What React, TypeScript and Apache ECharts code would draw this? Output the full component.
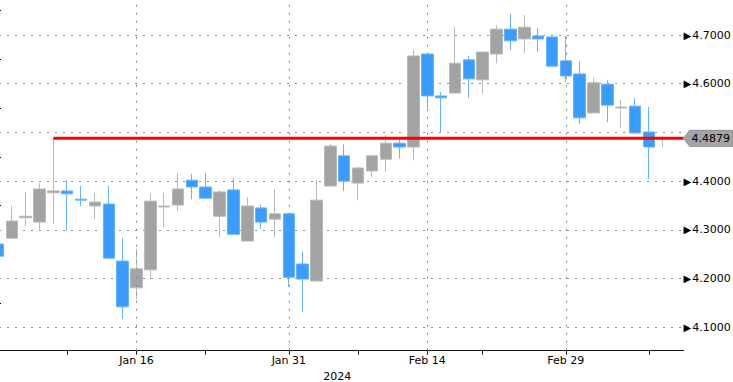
import React, { useEffect, useRef } from 'react';
import * as echarts from 'echarts';

const dates = ['Dec 29', 'Jan 2', 'Jan 3', 'Jan 4', 'Jan 5', 'Jan 8', 'Jan 9', 'Jan 10', 'Jan 11', 'Jan 12',
  'Jan 16', 'Jan 17', 'Jan 18', 'Jan 19', 'Jan 22', 'Jan 23', 'Jan 24', 'Jan 25', 'Jan 26', 'Jan 29',
  'Jan 30', 'Jan 31', 'Feb 1', 'Feb 2', 'Feb 5', 'Feb 6', 'Feb 7', 'Feb 8', 'Feb 9', 'Feb 12',
  'Feb 13', 'Feb 14', 'Feb 15', 'Feb 16', 'Feb 20', 'Feb 21', 'Feb 22', 'Feb 23', 'Feb 26', 'Feb 27',
  'Feb 28', 'Feb 29', 'Mar 1', 'Mar 4', 'Mar 5', 'Mar 6', 'Mar 7', 'Mar 8', 'Mar 11', 'Mar 12'];

const opens = [4.271, 4.283, 4.325, 4.316, 4.376, 4.380, 4.363, 4.349, 4.353, 4.236,
  4.181, 4.218, 4.347, 4.351, 4.402, 4.388, 4.328, 4.382, 4.277, 4.345,
  4.322, 4.333, 4.230, 4.195, 4.390, 4.452, 4.396, 4.421, 4.445, 4.478,
  4.470, 4.661, 4.575, 4.581, 4.649, 4.608, 4.661, 4.712, 4.692, 4.698,
  4.696, 4.647, 4.620, 4.540, 4.599, 4.550, 4.554, 4.501, 4.487];
const closes = [4.246, 4.318, 4.328, 4.384, 4.380, 4.374, 4.361, 4.357, 4.242, 4.142,
  4.220, 4.359, 4.349, 4.384, 4.388, 4.365, 4.378, 4.291, 4.349, 4.316,
  4.333, 4.203, 4.199, 4.361, 4.472, 4.400, 4.427, 4.452, 4.478, 4.470,
  4.657, 4.575, 4.571, 4.642, 4.610, 4.665, 4.712, 4.688, 4.716, 4.692,
  4.636, 4.616, 4.530, 4.602, 4.556, 4.552, 4.499, 4.470, 4.489];
const lows = [4.238, 4.282, 4.308, 4.298, 4.312, 4.298, 4.349, 4.322, 4.240, 4.117,
  4.158, 4.199, 4.306, 4.339, 4.363, 4.364, 4.285, 4.290, 4.276, 4.302,
  4.285, 4.183, 4.131, 4.194, 4.389, 4.380, 4.361, 4.408, 4.419, 4.447,
  4.443, 4.550, 4.499, 4.580, 4.571, 4.579, 4.642, 4.669, 4.663, 4.665,
  4.636, 4.603, 4.517, 4.540, 4.521, 4.509, 4.498, 4.404, 4.470];
const highs = [4.279, 4.349, 4.378, 4.396, 4.4879, 4.402, 4.390, 4.376, 4.390, 4.283,
  4.261, 4.374, 4.376, 4.417, 4.415, 4.417, 4.382, 4.406, 4.367, 4.351,
  4.384, 4.335, 4.255, 4.402, 4.476, 4.476, 4.429, 4.453, 4.495, 4.489,
  4.669, 4.662, 4.583, 4.716, 4.657, 4.666, 4.720, 4.743, 4.741, 4.714,
  4.697, 4.698, 4.645, 4.612, 4.608, 4.567, 4.571, 4.552, 4.493];

const labelDates = ['Jan 16', 'Jan 31', 'Feb 14', 'Feb 29'];
const tickDates = ['Jan 8', 'Jan 16', 'Jan 23', 'Jan 31', 'Feb 7', 'Feb 14', 'Feb 21', 'Feb 29', 'Mar 8'];
const yearLabel = '2024';
const levelValue = 4.4879;
const levelStart = 'Jan 5';
const yMin = 4.05202;
const yMax = 4.77184;

export default function App() {
  const ref = useRef<HTMLDivElement>(null);

  useEffect(() => {
    document.body.style.margin = '0';
    const chart = echarts.init(ref.current as HTMLDivElement, null, { renderer: 'svg' });
    const font = 'DejaVu Sans';
    const candles = dates.map((d, i) =>
      i < opens.length ? [opens[i], closes[i], lows[i], highs[i]] : '-'
    );
    const startIdx = dates.indexOf(levelStart);
    const endVal = dates.length - 0.5;

    chart.setOption({
      animation: false,
      grid: {
        left: -8.93,
        top: 0,
        width: 692.5,
        height: 350.7,
        containLabel: false,
        outerBoundsMode: 'none',
      },
      xAxis: [
        {
          type: 'category',
          data: dates,
          boundaryGap: true,
          axisLine: { show: true, lineStyle: { color: '#111', width: 1 } },
          axisTick: {
            show: true,
            alignWithLabel: true,
            length: 4,
            interval: (i: number, v: string) => tickDates.includes(v),
            lineStyle: { color: '#111' },
          },
          axisLabel: {
            interval: (i: number, v: string) => labelDates.includes(v),
            margin: 4,
            color: '#000',
            fontFamily: font,
            fontSize: 11,
          },
          splitLine: { show: false },
          name: yearLabel,
          nameLocation: 'middle',
          nameGap: 18,
          nameTextStyle: { color: '#000', fontFamily: font, fontSize: 11 },
        },
        { type: 'value', min: -0.5, max: endVal, show: false },
      ],
      yAxis: {
        type: 'value',
        position: 'right',
        min: yMin,
        max: yMax,
        splitNumber: 7,
        axisLine: { show: true, lineStyle: { color: '#7f7f7f', width: 2 } },
        axisTick: { show: false },
        minorTick: { show: true, splitNumber: 2, length: 3, lineStyle: { color: '#000' } },
        axisLabel: {
          showMinLabel: false,
          showMaxLabel: false,
          margin: 0,
          formatter: (v: number) =>
            Math.abs(v - levelValue) < 0.02 ? '' : `{t|▶}{n|${v.toFixed(4)}}`,
          rich: {
            t: { fontSize: 10, color: '#000', fontFamily: font },
            n: { fontSize: 11, color: '#000', fontFamily: font, padding: [0, 0, 0, 1] },
          },
        },
        splitLine: {
          show: true,
          showMinLine: false,
          showMaxLine: false,
          lineStyle: { color: '#8c8c8c', type: [2, 6], width: 1 },
        },
      },
      series: [
        {
          type: 'candlestick',
          data: candles,
          barWidth: 12,
          itemStyle: {
            color: '#a3a3a3',
            color0: '#3a9cfc',
            borderColor: '#b9b9b9',
            borderColor0: '#66b2fd',
            borderWidth: 1,
          },
          markLine: {
            silent: true,
            symbol: ['none', 'none'],
            label: { show: false },
            lineStyle: { color: '#8c8c8c', type: [2, 6], width: 1 },
            data: labelDates.map((d) => ({ xAxis: d })),
          },
        },
        {
          type: 'line',
          xAxisIndex: 1,
          yAxisIndex: 0,
          data: [[startIdx, levelValue], [endVal, levelValue]],
          symbol: 'none',
          silent: true,
          clip: false,
          z: 5,
          lineStyle: { color: '#ff0000', width: 3 },
        },
      ],
    });

    const yPix = chart.convertToPixel({ yAxisIndex: 0 }, levelValue) as number;
    const xPix = chart.convertToPixel({ xAxisIndex: 1 }, endVal) as number;
    chart.setOption({
      graphic: [
        {
          type: 'polygon',
          z: 100,
          shape: {
            points: [
              [xPix, yPix],
              [xPix + 6, yPix - 8],
              [733, yPix - 8],
              [733, yPix + 8],
              [xPix + 6, yPix + 8],
            ],
          },
          style: { fill: '#a4a4a4', stroke: '#8e8e8e', lineWidth: 1 },
        },
        {
          type: 'text',
          z: 101,
          x: xPix + 8,
          y: yPix,
          style: {
            text: levelValue.toFixed(4),
            fill: '#000',
            font: `11px "${font}"`,
            verticalAlign: 'middle',
          },
        },
      ],
    });

    return () => chart.dispose();
  }, []);

  return <div ref={ref} style={{ width: 733, height: 382 }} />;
}
